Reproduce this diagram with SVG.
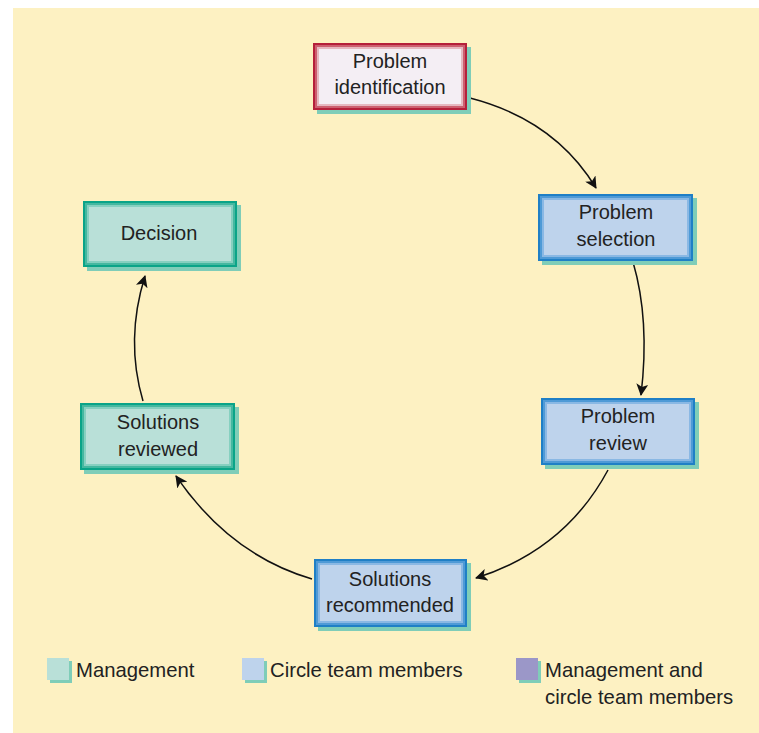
<svg xmlns="http://www.w3.org/2000/svg" width="759" height="733" viewBox="0 0 759 733">
<defs>
<marker id="ah" viewBox="0 0 12 12" refX="11" refY="6" markerWidth="12" markerHeight="12" markerUnits="userSpaceOnUse" orient="auto">
<path d="M0,0 L12,6 L0,12 L3,6 Z" fill="#111"/>
</marker>
</defs>
<style>
.t{font-family:"Liberation Sans","Open Sans",sans-serif;font-size:20px;fill:#222;text-anchor:middle}
.lt{font-family:"Liberation Sans","Open Sans",sans-serif;font-size:20.3px;fill:#222}
.sh{fill:#7fcdb8}
.c{fill:none;stroke:#111;stroke-width:1.5}
.r1{fill:#f4eef4}.r2{fill:none;stroke:#b5203a;stroke-width:2}.r3{fill:none;stroke:#cc6070;stroke-width:2}.r4{fill:none;stroke:#e6b8c0;stroke-width:2}
.b1{fill:#bed3ec}.b2{fill:none;stroke:#1f7fc6;stroke-width:2}.b3{fill:none;stroke:#4f9ad6;stroke-width:2}.b4{fill:none;stroke:#8ab8e4;stroke-width:2}
.g1{fill:#b9e0d8}.g2{fill:none;stroke:#0aa488;stroke-width:2}.g3{fill:none;stroke:#45b8a0;stroke-width:2}.g4{fill:none;stroke:#86d0c0;stroke-width:2}
</style>
<rect x="0" y="0" width="759" height="733" fill="#fff"/>
<rect x="13" y="8" width="746" height="725" fill="#fdf1c2"/>

<g id="connectors">
<path class="c" d="M470,98 Q555,120 596,188" marker-end="url(#ah)"/>
<path class="c" d="M633,262 Q650,320 641,395" marker-end="url(#ah)"/>
<path class="c" d="M608,470 Q565,550 476,578" marker-end="url(#ah)"/>
<path class="c" d="M312,579 Q230,555 176,476" marker-end="url(#ah)"/>
<path class="c" d="M143,401 Q125,340 145,276" marker-end="url(#ah)"/>
</g>

<g id="problem-identification">
<rect class="sh" x="317" y="47" width="154" height="67"/>
<rect class="r1" x="313" y="43" width="154" height="67"/>
<rect class="r2" x="314" y="44" width="152" height="65"/>
<rect class="r3" x="316" y="46" width="148" height="61"/>
<rect class="r4" x="318" y="48" width="144" height="57"/>
<text class="t" x="390" y="68">Problem</text>
<text class="t" x="390" y="94">identification</text>
</g>

<g id="problem-selection">
<rect class="sh" x="542" y="198" width="155" height="67"/>
<rect class="b1" x="538" y="194" width="155" height="67"/>
<rect class="b2" x="539" y="195" width="153" height="65"/>
<rect class="b3" x="541" y="197" width="149" height="61"/>
<rect class="b4" x="543" y="199" width="145" height="57"/>
<text class="t" x="616" y="219">Problem</text>
<text class="t" x="616" y="246">selection</text>
</g>

<g id="problem-review">
<rect class="sh" x="545" y="402" width="154" height="67"/>
<rect class="b1" x="541" y="398" width="154" height="67"/>
<rect class="b2" x="542" y="399" width="152" height="65"/>
<rect class="b3" x="544" y="401" width="148" height="61"/>
<rect class="b4" x="546" y="403" width="144" height="57"/>
<text class="t" x="618" y="423">Problem</text>
<text class="t" x="618" y="450">review</text>
</g>

<g id="solutions-recommended">
<rect class="sh" x="318" y="563" width="153" height="68"/>
<rect class="b1" x="314" y="559" width="153" height="68"/>
<rect class="b2" x="315" y="560" width="151" height="66"/>
<rect class="b3" x="317" y="562" width="147" height="62"/>
<rect class="b4" x="319" y="564" width="143" height="58"/>
<text class="t" x="390" y="586">Solutions</text>
<text class="t" x="390" y="612">recommended</text>
</g>

<g id="solutions-reviewed">
<rect class="sh" x="84" y="407" width="155" height="67"/>
<rect class="g1" x="80" y="403" width="155" height="67"/>
<rect class="g2" x="81" y="404" width="153" height="65"/>
<rect class="g3" x="83" y="406" width="149" height="61"/>
<rect class="g4" x="85" y="408" width="145" height="57"/>
<text class="t" x="158" y="429">Solutions</text>
<text class="t" x="158" y="456">reviewed</text>
</g>

<g id="decision">
<rect class="sh" x="87" y="205" width="154" height="66"/>
<rect class="g1" x="83" y="201" width="154" height="66"/>
<rect class="g2" x="84" y="202" width="152" height="64"/>
<rect class="g3" x="86" y="204" width="148" height="60"/>
<rect class="g4" x="88" y="206" width="144" height="56"/>
<text class="t" x="159" y="240">Decision</text>
</g>

<g id="legend">
<rect class="sh" x="50" y="661" width="22" height="22"/>
<rect x="47" y="658" width="22" height="22" fill="#b9e0d8"/>
<text class="lt" x="76" y="677">Management</text>
<rect class="sh" x="245" y="661" width="22" height="22"/>
<rect x="242" y="658" width="22" height="22" fill="#bed3ec"/>
<text class="lt" x="270" y="677">Circle team members</text>
<rect class="sh" x="519" y="661" width="22" height="22"/>
<rect x="516" y="658" width="22" height="22" fill="#9b97c8"/>
<text class="lt" x="545" y="677">Management and</text>
<text class="lt" x="545" y="704">circle team members</text>
</g>
</svg>
